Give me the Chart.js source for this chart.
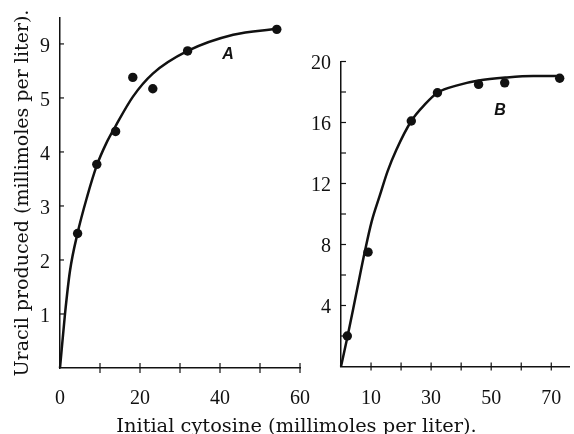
<!DOCTYPE html>
<html>
<head>
<meta charset="utf-8">
<script src="https://cdn.jsdelivr.net/npm/chart.js@4"></script>
<style>
  html, body { margin: 0; padding: 0; background: #fff; }
  #wrap { position: relative; width: 574px; height: 434px; overflow: hidden; }
  canvas { position: absolute; top: 0; }
  #chartA { left: 0; top: -4px; }
  #chartB { left: 280px; }
  .tag { position: absolute; font: italic bold 16px 'Liberation Sans', sans-serif; color: #111; transform: translate(-50%, -50%); }
  #xTitle { position: absolute; left: 0; width: 593px; top: 416px; text-align: center; white-space: nowrap;
            font: 19.4px 'DejaVu Serif', serif; line-height: 19px; color: #111; }
</style>
</head>
<body>
<div id="wrap">
  <canvas id="chartA" width="312" height="438"></canvas>
  <canvas id="chartB" width="294" height="434"></canvas>
  <div class="tag" style="left:228px;top:54px;">A</div>
  <div class="tag" style="left:500px;top:110px;">B</div>
  <div id="xTitle">Initial cytosine (millimoles per liter).</div>
</div>
<script>
// Panel A
const cytosineA = [4.4, 9.2, 13.9, 18.2, 23.2, 31.9, 54.2];
const uracilA = [2.49, 3.77, 4.38, 5.38, 5.17, 5.87, 6.27];
const curveAx = [0, 1.25, 2.5, 4.4, 6.7, 9.2, 11.5, 13.9, 18.2, 23.2, 31.9, 43.3, 54.2];
const curveAy = [0, 1.0, 1.8, 2.5, 3.15, 3.75, 4.15, 4.48, 5.02, 5.45, 5.87, 6.17, 6.28];
const xTicksA = [0, 10, 20, 30, 40, 50, 60];
const xLabelsA = ['0', '', '20', '', '40', '', '60'];
const yTicksA = [1, 2, 3, 4, 5, 6];
const yLabelsA = ['1', '2', '3', '4', '5', '9'];

// Panel B
const cytosineB = [2.1, 9.0, 23.4, 32.1, 45.8, 54.5, 72.8];
const uracilB = [2.0, 7.5, 16.1, 17.95, 18.5, 18.6, 18.9];
const curveBx = [0, 2.1, 5, 8, 10.2, 12.9, 15.5, 18.4, 23.4, 28, 32.1, 39, 45.8, 55, 64, 73];
const curveBy = [0, 1.9, 4.7, 7.6, 9.5, 11.2, 12.8, 14.2, 16.1, 17.2, 17.95, 18.45, 18.75, 18.95, 19.05, 19.05];
const xTicksB = [10, 20, 30, 40, 50, 60, 70];
const xLabelsB = ['10', '', '30', '', '50', '', '70'];
const yTicksB = [2, 4, 6, 8, 10, 12, 14, 16, 18, 20];
const yLabelsB = ['', '4', '', '8', '', '12', '', '16', '', '20'];

const ink = '#111';

const pairs = (xs, ys) => xs.map((x, i) => ({ x, y: ys[i] }));

// short tick marks drawn on the axis lines (inside / outside)
const tickMarks = {
  id: 'tickMarks',
  afterDraw(chart, args, opts) {
    const ctx = chart.ctx;
    ctx.save();
    ctx.strokeStyle = ink;
    ctx.lineWidth = 1.2;
    ['x', 'y'].forEach(id => {
      const s = chart.scales[id];
      const m = opts[id];
      s.ticks.forEach(t => {
        if (t.value === 0) return;
        const p = s.getPixelForValue(t.value);
        ctx.beginPath();
        if (id === 'x') {
          ctx.moveTo(p, s.top - m.inner);
          ctx.lineTo(p, s.top + m.outer);
        } else {
          ctx.moveTo(s.right - m.outer, p);
          ctx.lineTo(s.right + m.inner, p);
        }
        ctx.stroke();
      });
    });
    ctx.restore();
  }
};

function makePanel(id, d) {
  return new Chart(document.getElementById(id), {
    type: 'scatter',
    data: {
      datasets: [
        {
          data: pairs(d.cx, d.cy),
          showLine: true,
          borderColor: ink,
          borderWidth: 2.5,
          pointRadius: 0,
          cubicInterpolationMode: 'monotone',
          clip: false,
        },
        {
          data: pairs(d.px, d.py),
          pointRadius: 4.7,
          pointBackgroundColor: ink,
          pointBorderWidth: 0,
          clip: false,
        },
      ],
    },
    options: {
      responsive: false,
      animation: false,
      events: [],
      layout: { padding: d.padding },
      plugins: {
        legend: { display: false },
        tooltip: { enabled: false },
        tickMarks: d.marks,
      },
      scales: {
        x: {
          type: 'linear',
          min: d.xMin,
          max: d.xMax,
          afterFit: s => { s.height = d.xHeight; },
          afterBuildTicks: s => { s.ticks = d.xTicks.map(v => ({ value: v })); },
          grid: { display: false, drawTicks: false },
          border: { color: ink, width: 1.5 },
          ticks: {
            autoSkip: false,
            maxRotation: 0,
            padding: 0,
            color: ink,
            // tall line box pushes the labels down from the axis
            font: { family: 'Liberation Serif', size: 20, lineHeight: d.xLabelDrop / 10 },
            callback: (v, i) => d.xLabels[i],
          },
        },
        y: {
          type: 'linear',
          min: 0,
          max: d.yMax,
          afterFit: s => { s.width = d.yWidth; },
          afterBuildTicks: s => { s.ticks = d.yTicks.map(v => ({ value: v })); },
          grid: { display: false, drawTicks: false },
          border: { color: ink, width: 1.5 },
          ticks: {
            autoSkip: false,
            padding: 10,
            labelOffset: 2.5,
            color: ink,
            font: { family: 'Liberation Serif', size: 20 },
            callback: (v, i) => d.yLabels[i],
          },
          title: d.yTitle
            ? { display: true, text: d.yTitle, color: ink, font: { family: 'DejaVu Serif', size: 19 }, padding: { top: 12 } }
            : { display: false },
        },
      },
    },
    plugins: [tickMarks],
  });
}

makePanel('chartA', {
  cx: curveAx, cy: curveAy, px: cytosineA, py: uracilA,
  xMin: 0, xMax: 60, yMax: 6.48,
  xTicks: xTicksA, xLabels: xLabelsA, yTicks: yTicksA, yLabels: yLabelsA,
  padding: { top: 0, right: 12, left: 0, bottom: 0 },
  xHeight: 66, yWidth: 60, xLabelDrop: 30.3,
  marks: { x: { inner: 5, outer: 5 }, y: { inner: 4, outer: 0 } },
  yTitle: 'Uracil produced (millimoles per liter).',
});

makePanel('chartB', {
  cx: curveBx, cy: curveBy, px: cytosineB, py: uracilB,
  xMin: 0, xMax: 76, yMax: 20,
  xTicks: xTicksB, xLabels: xLabelsB, yTicks: yTicksB, yLabels: yLabelsB,
  padding: { top: 61.5, right: 0, left: 0, bottom: 0 },
  xHeight: 67.5, yWidth: 61, xLabelDrop: 31.8,
  marks: { x: { inner: 4, outer: 4 }, y: { inner: 5, outer: 0 } },
});
</script>
</body>
</html>
